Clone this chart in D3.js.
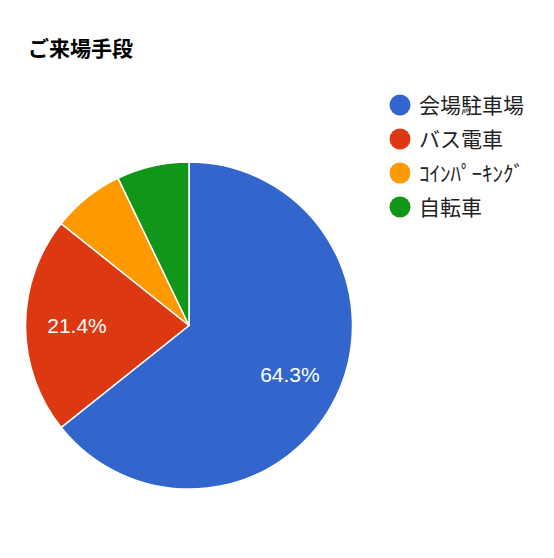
<!DOCTYPE html>
<html>
<head>
<meta charset="utf-8">
<script src="https://cdn.jsdelivr.net/npm/d3@7"></script>
<style>
  body { margin: 0; background: #fff; }
</style>
</head>
<body>
<div id="chart"></div>
<script>
const titleText = "ご来場手段";
const categories = ["会場駐車場", "バス電車", "ｺｲﾝﾊﾟｰｷﾝｸﾞ", "自転車"];
const counts = [9, 3, 1, 1];
const colors = ["#3366cc", "#dc3912", "#ff9900", "#109618"];

const width = 554, height = 558;
const cx = 189, cy = 325.5, radius = 163.5;

const svg = d3.select("#chart").append("svg")
    .attr("width", width)
    .attr("height", height)
    .attr("font-family", "Arial, 'Liberation Sans', 'Noto Sans CJK JP', sans-serif");

svg.append("rect")
    .attr("width", width)
    .attr("height", height)
    .attr("fill", "#fff");

svg.append("text")
    .attr("x", 28)
    .attr("y", 56)
    .attr("font-size", 21)
    .attr("font-weight", "bold")
    .attr("font-family", "'Noto Sans CJK JP', sans-serif")
    .attr("fill", "#000")
    .text(titleText);

const data = categories.map((c, i) => ({ name: c, value: counts[i], color: colors[i] }));
const total = d3.sum(counts);

const pie = d3.pie().sort(null).value(d => d.value);
const arc = d3.arc().innerRadius(0).outerRadius(radius);
const labelArc = d3.arc().innerRadius(radius * 0.685).outerRadius(radius * 0.685);

const g = svg.append("g").attr("transform", "translate(" + cx + "," + cy + ")");

const arcs = pie(data);

g.selectAll("path")
    .data(arcs)
    .enter().append("path")
    .attr("d", arc)
    .attr("fill", d => d.data.color)
    .attr("stroke", "#fff")
    .attr("stroke-width", 1.5);

// only slices big enough get a label
g.selectAll("text.pct")
    .data(arcs.filter(d => d.data.value / total > 0.1))
    .enter().append("text")
    .attr("class", "pct")
    .attr("transform", d => "translate(" + labelArc.centroid(d) + ")")
    .attr("text-anchor", "middle")
    .attr("dy", "0.36em")
    .attr("font-size", 21)
    .attr("fill", "#fff")
    .text(d => (d.data.value / total * 100).toFixed(1) + "%");

const legend = svg.append("g").attr("transform", "translate(400,105)");
const item = legend.selectAll("g")
    .data(data)
    .enter().append("g")
    .attr("transform", (d, i) => "translate(0," + (i * 34) + ")");

item.append("circle")
    .attr("r", 10.5)
    .attr("fill", d => d.color);

item.append("text")
    .attr("x", 19)
    .attr("dy", "0.38em")
    .attr("font-size", 21)
    .attr("font-family", "'Noto Sans CJK JP', sans-serif")
    .attr("fill", "#222")
    .text(d => d.name);
</script>
</body>
</html>
